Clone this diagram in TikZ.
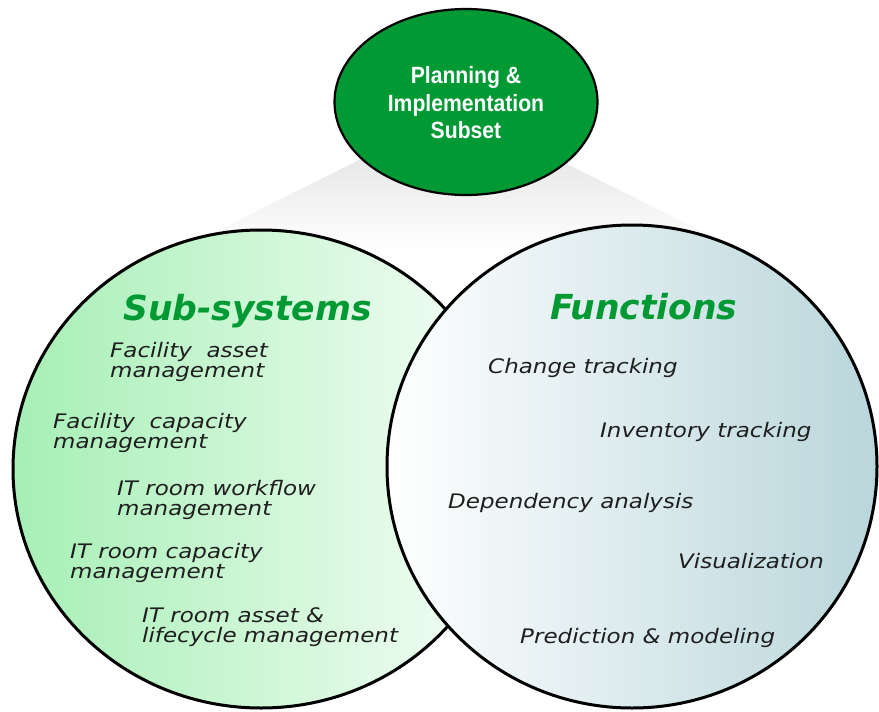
\documentclass[tikz,border=0pt]{standalone}
\usepackage{fontspec}
\setmainfont{DejaVu Sans}
\newfontfamily\topfont[FakeStretch=0.9]{Liberation Sans}
\newfontfamily\itemfont[FakeStretch=1.15]{DejaVu Sans}
\newfontfamily\titlefont{DejaVu Sans}
\usetikzlibrary{shapes.geometric}
\definecolor{ggreen}{HTML}{009933}
\definecolor{lgreen}{HTML}{A6EFB5}
\definecolor{lgreenw}{HTML}{F7FEF8}
\definecolor{lblue}{HTML}{B9D6DB}
\begin{document}
\begin{tikzpicture}[x=1pt,y=-1pt,
  item/.style={anchor=base west, align=left, inner sep=0pt, text=black!88,
    font={\itemfont\itshape\fontsize{20}{19.5}\selectfont}},
  title/.style={anchor=base west, inner sep=0pt, text=ggreen,
    font={\titlefont\bfseries\itshape\fontsize{34.5}{36}\selectfont}},
  ring/.style={draw=black, line width=3pt}
]
\useasboundingbox (0,0) rectangle (879,712);
% grey beam
\shade[top color=black!14, bottom color=white] (459,110) -- (179,250) -- (739,250) -- cycle;
% left circle
\shade[ring, left color=lgreen, right color=lgreenw] (261,469) ellipse [x radius=248pt, y radius=239pt];
% right circle
\shade[ring, left color=white, right color=lblue] (632,466.5) ellipse [x radius=245pt, y radius=241.5pt];
% top ellipse
\node[ellipse, draw=black, line width=2.2pt, fill=ggreen, minimum width=263pt, minimum height=186pt, inner sep=0pt] (top) at (466,102) {};
\node[align=center, text=white, inner sep=0pt, font={\topfont\bfseries\fontsize{23.5}{27.5}\selectfont}] (toptext) at (466,103) {Planning \&\\Implementation\\Subset};
% titles
\node[title] (subsys) at (123,320) {Sub-systems};
\node[title] (funcs) at (550,319) {Functions};
% left items (base = baseline of last line)
\node[item] (fa) at (110,377) {Facility\ \ asset\\management};
\node[item] (fc) at (53,448) {Facility\ \ capacity\\management};
\node[item] (iw) at (117,515) {IT room workflow\\management};
\node[item] (ic) at (70,578) {IT room capacity\\management};
\node[item] (ia) at (142,642) {IT room asset \&\\lifecycle management};
% right items
\node[item] (ct) at (488,373) {Change tracking};
\node[item] (it) at (600,437) {Inventory tracking};
\node[item] (da) at (448,508) {Dependency analysis};
\node[item] (vi) at (678,568) {Visualization};
\node[item] (pm) at (520,643) {Prediction \& modeling};
\end{tikzpicture}
\end{document}
